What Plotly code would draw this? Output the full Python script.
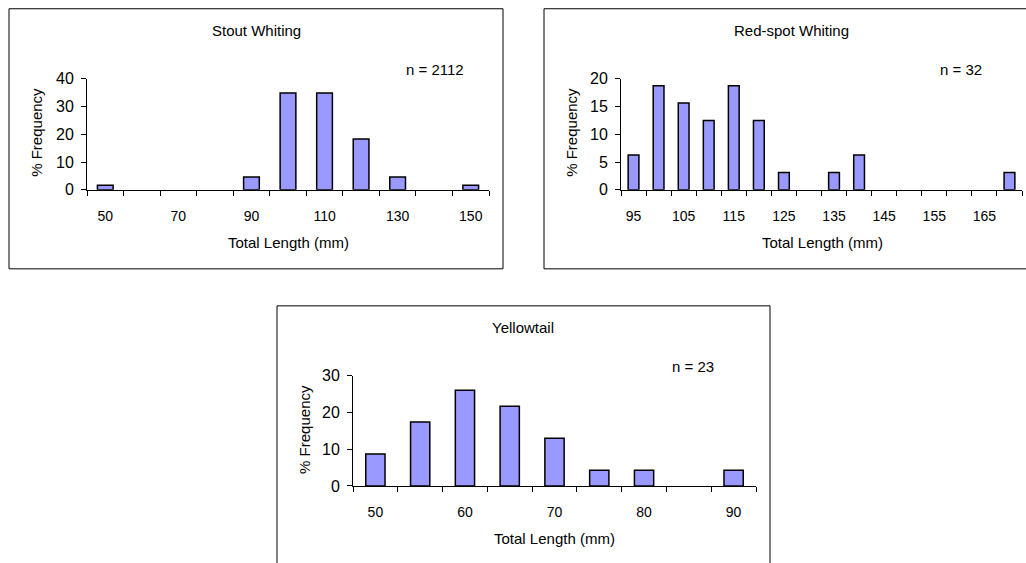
import plotly.graph_objects as go

W, H = 1026, 563

# ---- data ----
stout_lengths = [50, 60, 70, 80, 90, 100, 110, 120, 130, 140, 150]
stout_pct = [1.6, 0, 0, 0, 4.6, 34.9, 34.9, 18.3, 4.6, 0, 1.6]
stout_labels = [50, 70, 90, 110, 130, 150]

redspot_lengths = [95, 100, 105, 110, 115, 120, 125, 130, 135, 140, 145, 150, 155, 160, 165, 170]
redspot_pct = [6.25, 18.75, 15.63, 12.5, 18.75, 12.5, 3.13, 0, 3.13, 6.25, 0, 0, 0, 0, 0, 3.13]
redspot_labels = [95, 105, 115, 125, 135, 145, 155, 165]

yellow_lengths = [50, 55, 60, 65, 70, 75, 80, 85, 90]
yellow_pct = [8.7, 17.4, 26.1, 21.7, 13.0, 4.3, 4.3, 0, 4.3]
yellow_labels = [50, 60, 70, 80, 90]

FONT = "Liberation Sans, Arial, sans-serif"

# observed vertical mapping of the capture: shown_y = SY * fig_y + OY
SY, OY = 0.9695, 7.24


def px(x):
    return x / W


def py(y):
    return 1 - ((y - OY) / SY) / H


fig = go.Figure()

panels = [
    # (lengths, pct, labels, step, ymax, ydtick, x0, x1, ytop, ybot, axis idx)
    (stout_lengths, stout_pct, stout_labels, 10, 40, 10, 87, 489, 78, 189, ""),
    (redspot_lengths, redspot_pct, redspot_labels, 5, 20, 5, 621, 1022, 78, 189, "2"),
    (yellow_lengths, yellow_pct, yellow_labels, 5, 30, 10, 353, 756, 375, 485, "3"),
]

for lengths, pct, labels, step, ymax, ydt, x0, x1, yt, yb, idx in panels:
    yvals = [v if v > 0 else None for v in pct]
    fig.add_trace(go.Bar(
        x=lengths, y=yvals, width=[0.43 * step] * len(lengths),
        marker=dict(color="#9999FF", line=dict(color="black", width=1.5)),
        xaxis="x" + idx, yaxis="y" + idx, showlegend=False,
    ))
    lo = lengths[0] - step / 2
    hi = lengths[-1] + step / 2
    bounds = [lo + step * k for k in range(len(lengths) + 1)]
    fig.update_layout(**{
        "xaxis" + idx: dict(
            domain=[px(x0), px(x1)], anchor="y" + idx,
            range=[lo, hi], showgrid=False, zeroline=False,
            showline=True, linecolor="black", linewidth=1,
            tickvals=labels, ticks="", ticklabelstandoff=13,
            tickfont=dict(family=FONT, size=14, color="black"),
            minor=dict(tickvals=bounds, ticks="outside", ticklen=5,
                       tickcolor="black", tickwidth=1, showgrid=False),
        ),
        "yaxis" + idx: dict(
            domain=[py(yb), py(yt)], anchor="x" + idx,
            range=[0, ymax], dtick=ydt, tick0=0, showgrid=False, zeroline=False,
            showline=True, linecolor="black", linewidth=1,
            ticks="outside", ticklen=5, tickcolor="black", tickwidth=1,
            ticklabelstandoff=4,
            tickfont=dict(family=FONT, size=16, color="black"),
        ),
    })

# frames
frames = [(9, 8, 503, 268), (544, 8, 1037, 268), (277, 305, 770, 565)]
for a, b, c, d in frames:
    fig.add_shape(type="rect", xref="paper", yref="paper",
                  x0=px(a), x1=px(c), y0=py(d), y1=py(b),
                  line=dict(color="black", width=1), fillcolor="rgba(0,0,0,0)")

texts = [
    ("Stout Whiting", 256, 30, 15, 0),
    ("n = 2112", 435, 69, 15, 0),
    ("Total Length (mm)", 288, 242, 15, 0),
    ("% Frequency", 37, 132, 15, -90),
    ("Red-spot Whiting", 791, 30, 15, 0),
    ("n = 32", 961, 69, 15, 0),
    ("Total Length (mm)", 822, 242, 15, 0),
    ("% Frequency", 572, 132, 15, -90),
    ("Yellowtail", 523, 327, 15, 0),
    ("n = 23", 693, 366, 15, 0),
    ("Total Length (mm)", 554, 538, 15, 0),
    ("% Frequency", 305, 429, 15, -90),
]
for t, x, y, s, ang in texts:
    fig.add_annotation(text=t, x=px(x), y=py(y), xref="paper", yref="paper",
                       xanchor="center", yanchor="middle", showarrow=False,
                       textangle=ang, font=dict(family=FONT, size=s, color="black"))

fig.update_layout(
    width=W, height=H, margin=dict(l=0, r=0, t=0, b=0),
    paper_bgcolor="white", plot_bgcolor="white", bargap=0,
)

page_fix = (
    "document.documentElement.style.margin='0';"
    "document.documentElement.style.overflow='hidden';"
    "document.body.style.margin='0';"
    "document.body.style.padding='0';"
    "document.body.style.overflow='hidden';"
    "var gd=document.getElementById('{plot_id}');"
    "gd.style.position='fixed';gd.style.top='0px';gd.style.left='0px';"
)

fig.write_html("out.html", post_script=page_fix,
               config={"displayModeBar": False, "staticPlot": True})
